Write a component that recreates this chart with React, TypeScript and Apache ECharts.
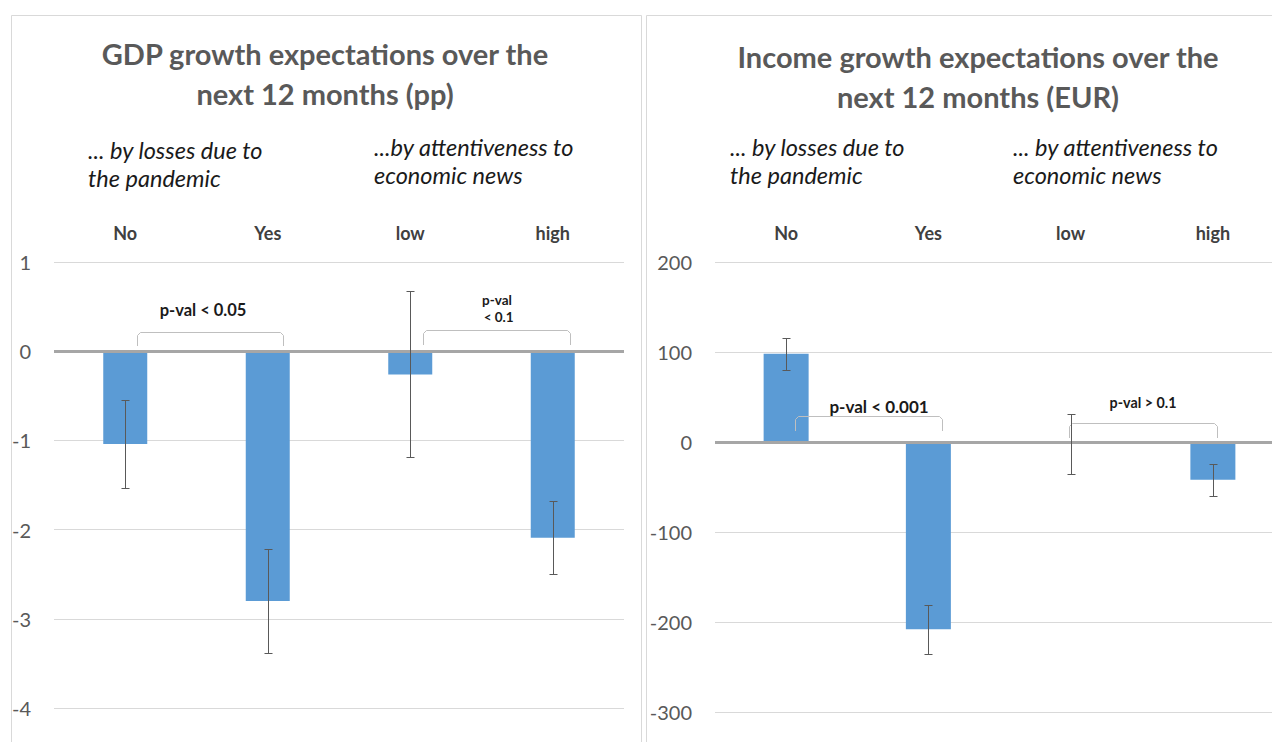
import React, { useEffect, useRef } from "react";
import * as echarts from "echarts";

const categories = ["No", "Yes", "low", "high"];
const gdpValues = [-1.04, -2.8, -0.26, -2.09];
const gdpErrors = [0.49, 0.58, 0.93, 0.41];
const incomeValues = [98, -208, -2, -42];
const incomeErrors = [17.5, 27, 33, 17.5];
const gdpAxis = { min: -4, max: 1, interval: 1 };
const incomeAxis = { min: -300, max: 200, interval: 100 };

const titles = [
  "GDP growth expectations over the\nnext 12 months (pp)",
  "Income growth expectations over the\nnext 12 months (EUR)",
];
const subtitlesLeft = ["... by losses due to\nthe pandemic", "...by attentiveness to\neconomic news"];
const subtitlesRight = ["... by losses due to\nthe pandemic", "... by attentiveness to\neconomic news"];
const pLabels = ["p-val < 0.05", "p-val\n < 0.1", "p-val < 0.001", "p-val > 0.1"];

const FONT = "Lato, 'Open Sans', sans-serif";
const BAR = "#5b9bd5";
const ERR = "#595959";
const BRACKET = "#bfbfbf";

function errData(vals: number[], errs: number[]) {
  return vals.map((v, i) => [i, v - errs[i], v + errs[i]]);
}

function renderErr(params: any, api: any) {
  const x = api.value(0);
  const lo = api.coord([x, api.value(1)]);
  const hi = api.coord([x, api.value(2)]);
  const cx = Math.round(lo[0]) + 0.5;
  const y1 = Math.round(lo[1]) + 0.5;
  const y2 = Math.round(hi[1]) + 0.5;
  const cap = 4;
  const st = { stroke: ERR, lineWidth: 1 };
  return {
    type: "group",
    children: [
      { type: "line", shape: { x1: cx, y1, x2: cx, y2 }, style: st },
      { type: "line", shape: { x1: cx - cap, y1, x2: cx + cap, y2: y1 }, style: st },
      { type: "line", shape: { x1: cx - cap, y1: y2, x2: cx + cap, y2 }, style: st },
    ],
  };
}

function bracket(x1: number, x2: number, yTop: number, yBot: number) {
  return {
    type: "polyline",
    shape: { points: [[x1, yBot], [x1, yTop + 3], [x1 + 3, yTop], [x2 - 3, yTop], [x2, yTop + 3], [x2, yBot]] },
    style: { stroke: BRACKET, lineWidth: 1, fill: null },
    z: 5,
  };
}

function subText(x: number, y: number, text: string) {
  return {
    type: "text",
    x,
    y,
    style: { text, font: `italic 23.5px ${FONT}`, fill: "#1a1a1a", lineHeight: 28, verticalAlign: "middle" },
  };
}

function pText(x: number, y: number, text: string, size: number, lh = 17) {
  return {
    type: "text",
    x,
    y,
    style: {
      text,
      font: `bold ${size}px ${FONT}`,
      fill: "#1a1a1a",
      align: "center",
      verticalAlign: "middle",
      lineHeight: lh,
    },
    z: 5,
  };
}

export default function App() {
  const ref = useRef<HTMLDivElement>(null);
  useEffect(() => {
    if (!ref.current) return;
    const chart = echarts.init(ref.current, null, { renderer: "svg" });
    const xAxisBase = (gridIndex: number) => ({
      type: "category",
      gridIndex,
      data: categories,
      position: "top",
      axisLine: { show: false },
      axisTick: { show: false },
      splitLine: { show: false },
      axisLabel: { fontFamily: FONT, fontWeight: "bold", fontSize: 18, color: "#404040", margin: 20 },
    });
    const yAxisBase = (gridIndex: number, ax: any) => ({
      type: "value",
      gridIndex,
      min: ax.min,
      max: ax.max,
      interval: ax.interval,
      axisLine: { show: false },
      axisTick: { show: false },
      axisLabel: { fontFamily: FONT, fontSize: 20, color: "#595959", margin: 23 },
      splitLine: { lineStyle: { color: "#d9d9d9", width: 1 } },
    });
    const zeroLine = {
      silent: true,
      symbol: "none",
      label: { show: false },
      lineStyle: { color: "#a6a6a6", width: 3, type: "solid" },
      data: [{ yAxis: 0 }],
    };
    const titleStyle = { fontFamily: FONT, fontSize: 29, fontWeight: "bold", color: "#595959", lineHeight: 40 };
    chart.setOption({
      animation: false,
      backgroundColor: "#ffffff",
      title: [
        { text: titles[0], left: 320, top: 28, textAlign: "center", textStyle: titleStyle },
        { text: titles[1], left: 973, top: 31, textAlign: "center", textStyle: titleStyle },
      ],
      grid: [
        { left: 54, top: 262, width: 570, height: 446 },
        { left: 715, top: 262, width: 569, height: 450 },
      ],
      xAxis: [xAxisBase(0), xAxisBase(1)],
      yAxis: [yAxisBase(0, gdpAxis), yAxisBase(1, incomeAxis)],
      series: [
        {
          type: "bar",
          xAxisIndex: 0,
          yAxisIndex: 0,
          data: gdpValues,
          barWidth: 44,
          itemStyle: { color: BAR },
          markLine: zeroLine,
        },
        {
          type: "bar",
          xAxisIndex: 1,
          yAxisIndex: 1,
          data: incomeValues,
          barWidth: 45,
          itemStyle: { color: BAR },
          markLine: zeroLine,
        },
        {
          type: "custom",
          xAxisIndex: 0,
          yAxisIndex: 0,
          data: errData(gdpValues, gdpErrors),
          encode: { x: 0, y: [1, 2] },
          renderItem: renderErr,
          z: 5,
        },
        {
          type: "custom",
          xAxisIndex: 1,
          yAxisIndex: 1,
          data: errData(incomeValues, incomeErrors),
          encode: { x: 0, y: [1, 2] },
          renderItem: renderErr,
          z: 5,
        },
      ],
      graphic: [
        { type: "rect", shape: { x: 11.5, y: 15.5, width: 630, height: 900 }, style: { stroke: "#d9d9d9", fill: null, lineWidth: 1 }, z: -1 },
        { type: "rect", shape: { x: 646.5, y: 15.5, width: 700, height: 900 }, style: { stroke: "#d9d9d9", fill: null, lineWidth: 1 }, z: -1 },
        subText(88, 164, subtitlesLeft[0]),
        subText(374, 161, subtitlesLeft[1]),
        subText(730, 161, subtitlesRight[0]),
        subText(1013, 161, subtitlesRight[1]),
        bracket(137.5, 283.5, 332.5, 346),
        bracket(423.5, 570.5, 330.5, 345),
        bracket(795.5, 942.5, 416.5, 431),
        bracket(1069.5, 1217.5, 423.5, 438),
        pText(203, 310, pLabels[0], 16.5),
        pText(497, 308, pLabels[1], 13.5, 17),
        pText(879, 406, pLabels[2], 17),
        pText(1143, 402, pLabels[3], 14.3),
      ],
    });
    return () => chart.dispose();
  }, []);
  return (
    <div style={{ position: "fixed", left: 0, top: 0, width: 1272, height: 742, overflow: "hidden", background: "#fff" }}>
      <div ref={ref} style={{ position: "absolute", left: 0, top: 0, width: 1320, height: 742 }} />
    </div>
  );
}
